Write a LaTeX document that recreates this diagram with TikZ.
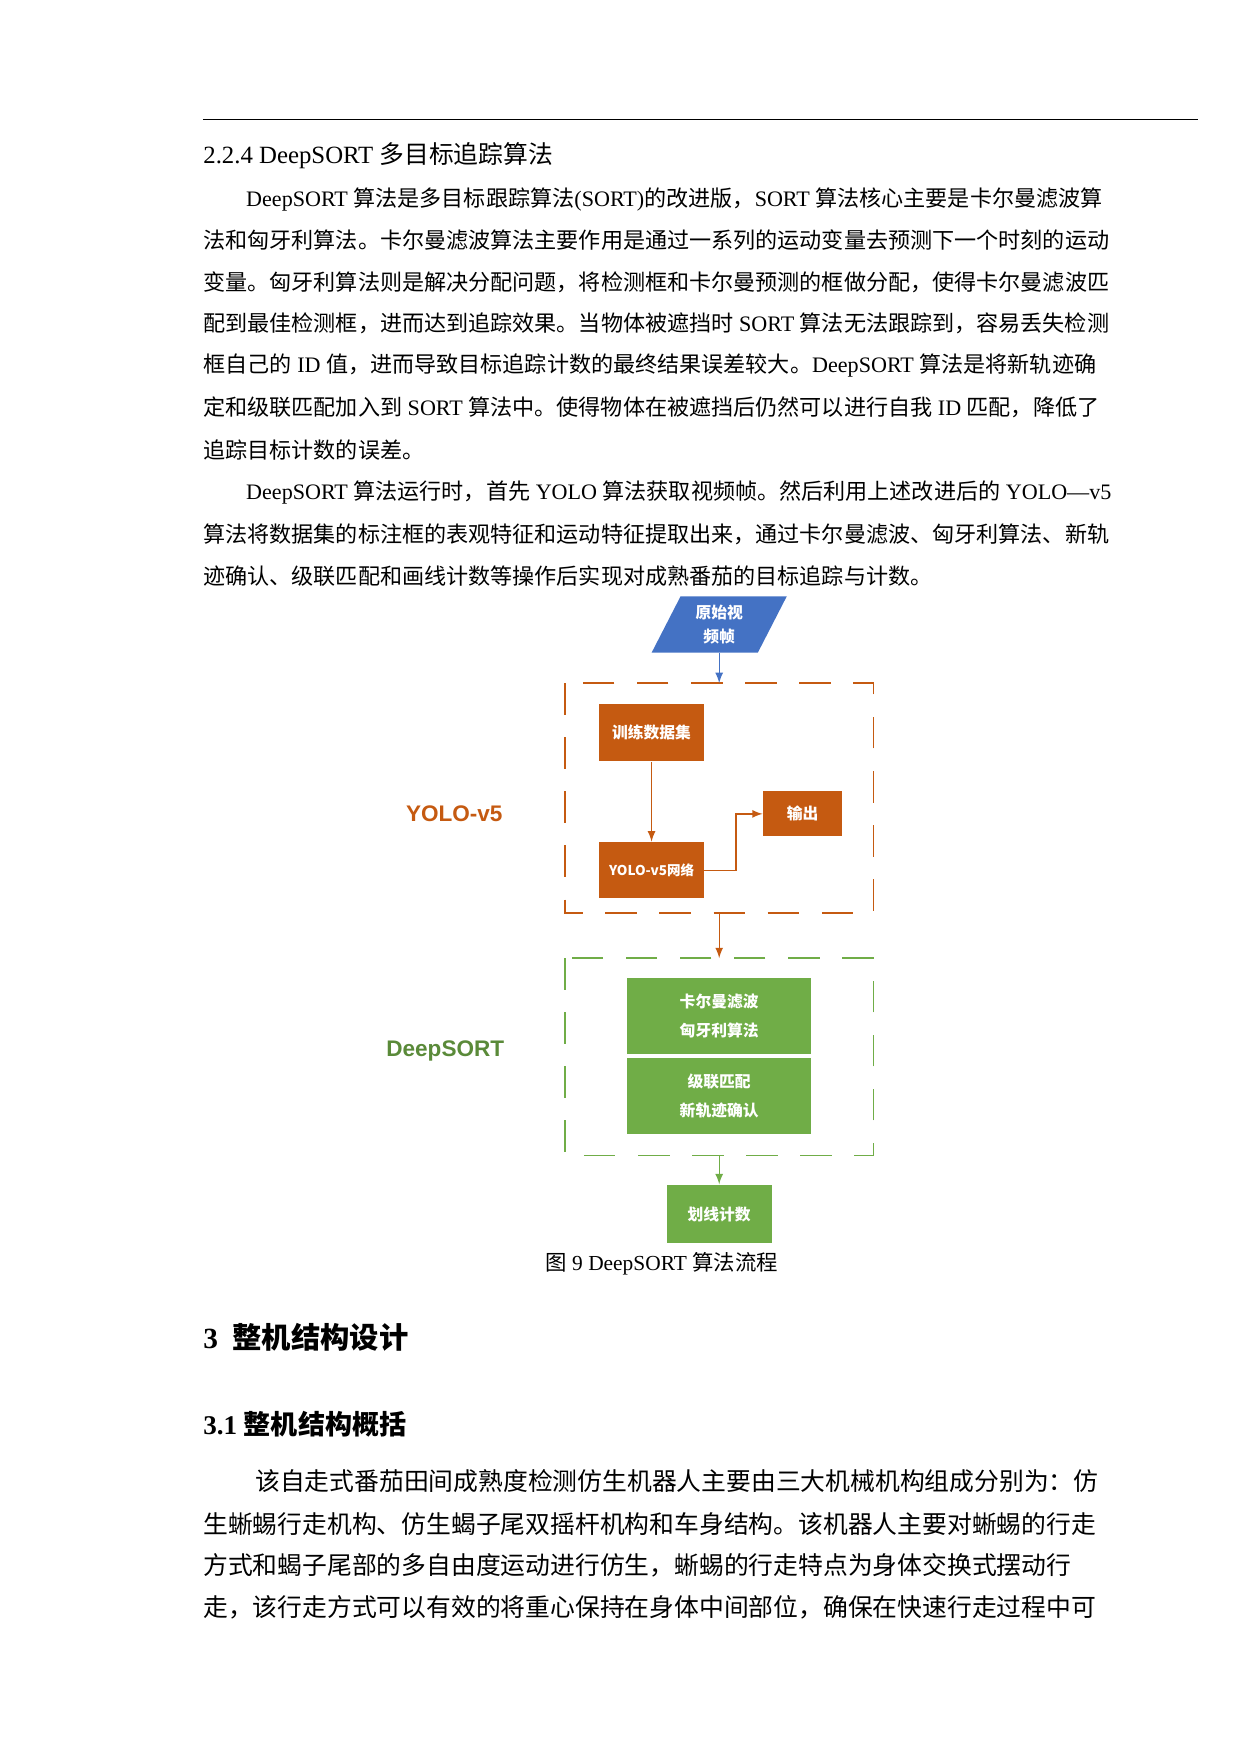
\documentclass[tikz,border=0pt]{standalone}
\usepackage{fontspec}
\setmainfont{Liberation Serif}
\setsansfont{Liberation Sans}
\newfontfamily\cjk{Noto Sans CJK SC}
\usetikzlibrary{arrows,shapes.geometric}
\XeTeXinterchartokenstate=1
\newXeTeXintercharclass\CJKcls
\count255="4E00
\loop\XeTeXcharclass\count255=\CJKcls\ifnum\count255<"9FFF\advance\count255 by 1\repeat
\count255="3000
\loop\XeTeXcharclass\count255=\CJKcls\ifnum\count255<"303F\advance\count255 by 1\repeat
\count255="FF00
\loop\XeTeXcharclass\count255=\CJKcls\ifnum\count255<"FFEF\advance\count255 by 1\repeat
\XeTeXinterchartoks 0 \CJKcls={\cjk}
\XeTeXinterchartoks 4095 \CJKcls={\cjk}
\XeTeXinterchartoks \CJKcls 0={\rmfamily}
\XeTeXinterchartoks \CJKcls 4095={\rmfamily}
\definecolor{boxblue}{HTML}{4472C4}
\definecolor{boxorange}{HTML}{C55A11}
\definecolor{boxgreen}{HTML}{70AD47}
\tikzset{
  line/.style={anchor=west,inner sep=0pt,font=\fontsize{9.8}{12}\selectfont},
  bigline/.style={anchor=west,inner sep=0pt,font=\fontsize{11}{13}\selectfont},
  step/.style={draw=none,fill=#1,text=white,font=\cjk\bfseries\fontsize{7}{11}\selectfont,inner sep=0pt,align=center},
  frame/.style={draw=#1,dash pattern=on 14pt off 10pt,line width=0.7pt},
  link/.style={draw=#1,-latex,line width=0.6pt}
}
\begin{document}
\begin{tikzpicture}[x=0.5pt,y=-0.5pt]
  \useasboundingbox (0,0) rectangle (1100,1556);
  \draw[line width=0.8pt] (180,106) -- (1063,106);
  \node[line,font=\fontsize{11}{13}\selectfont] (head) at (180,138) {2.2.4 DeepSORT 多目标追踪算法};
  % first paragraph
  \node[line] (p1) at (218,177) {DeepSORT 算法是多目标跟踪算法(SORT)的改进版，SORT 算法核心主要是卡尔曼滤波算};
  \node[line] (p2) at (180,213) {法和匈牙利算法。卡尔曼滤波算法主要作用是通过一系列的运动变量去预测下一个时刻的运动};
  \node[line] (p3) at (180,250) {变量。匈牙利算法则是解决分配问题，将检测框和卡尔曼预测的框做分配，使得卡尔曼滤波匹};
  \node[line] (p4) at (180,287) {配到最佳检测框，进而达到追踪效果。当物体被遮挡时 SORT 算法无法跟踪到，容易丢失检测};
  \node[line] (p5) at (180,324) {框自己的 ID 值，进而导致目标追踪计数的最终结果误差较大。DeepSORT 算法是将新轨迹确};
  \node[line] (p6) at (180,361) {定和级联匹配加入到 SORT 算法中。使得物体在被遮挡后仍然可以进行自我 ID 匹配，降低了};
  \node[line] (p7) at (180,399) {追踪目标计数的误差。};
  % second paragraph
  \node[line] (q1) at (218,437) {DeepSORT 算法运行时，首先 YOLO 算法获取视频帧。然后利用上述改进后的 YOLO—v5};
  \node[line] (q2) at (180,474) {算法将数据集的标注框的表观特征和运动特征提取出来，通过卡尔曼滤波、匈牙利算法、新轨};
  \node[line] (q3) at (180,511) {迹确认、级联匹配和画线计数等操作后实现对成熟番茄的目标追踪与计数。};
  % flow chart
  \node[step=boxblue,trapezium,trapezium left angle=66,trapezium right angle=114,
        minimum width=60pt,minimum height=25pt,trapezium stretches=true] (video) at (638,554) {原始视\\频帧};
  \draw[frame=boxorange] (501,606) rectangle (775,810);
  \coordinate (yolotop) at (638,606);
  \coordinate (yolobot) at (638,810);
  \node[step=boxorange,minimum width=46.5pt,minimum height=25.5pt] (train) at (578,650) {训练数据集};
  \node[step=boxorange,minimum width=46.5pt,minimum height=25pt,font=\cjk\bfseries\fontsize{6}{8}\selectfont] (net) at (578,772) {YOLO-v5网络};
  \node[step=boxorange,minimum width=35pt,minimum height=20pt] (out) at (712,722) {输出};
  \node[text=boxorange,font=\sffamily\bfseries\fontsize{10}{12}\selectfont] (yololab) at (403,722) {YOLO-v5};
  \draw[link=boxblue] (video) -- (yolotop);
  \draw[link=boxorange] (train) -- (net);
  \draw[link=boxorange] (net.east) -- ++(28,0) |- (out.west);
  \draw[frame=boxgreen] (501,850) rectangle (775,1025);
  \coordinate (deeptop) at (638,850);
  \coordinate (deepbot) at (638,1025);
  \draw[link=boxorange] (yolobot) -- (deeptop);
  \node[step=boxgreen,minimum width=81.5pt,minimum height=33.5pt,font=\cjk\bfseries\fontsize{7}{13}\selectfont] (kalman) at (638,901.5) {卡尔曼滤波\\匈牙利算法};
  \node[step=boxgreen,minimum width=81.5pt,minimum height=33.5pt,font=\cjk\bfseries\fontsize{7}{13}\selectfont] (cascade) at (638,972.5) {级联匹配\\新轨迹确认};
  \node[text=boxgreen!80!black,font=\sffamily\bfseries\fontsize{10}{12}\selectfont] (deeplab) at (395,932) {DeepSORT};
  \node[step=boxgreen,minimum width=46.5pt,minimum height=26pt] (count) at (638,1077) {划线计数};
  \draw[link=boxgreen] (deepbot) -- (count);
  \node[font=\ttfamily\fontsize{9.5}{12}\selectfont] (cap) at (587,1121) {图 9 DeepSORT 算法流程};
  % next section
  \node[line,font=\bfseries\fontsize{13}{16}\selectfont] (sec) at (180,1186) {3 \ 整机结构设计};
  \node[line,font=\bfseries\fontsize{12}{14}\selectfont] (sub) at (180,1263) {3.1 整机结构概括};
  \node[bigline] (r1) at (226,1314) {该自走式番茄田间成熟度检测仿生机器人主要由三大机械机构组成分别为：仿};
  \node[bigline] (r2) at (180,1352) {生蜥蜴行走机构、仿生蝎子尾双摇杆机构和车身结构。该机器人主要对蜥蜴的行走};
  \node[bigline] (r3) at (180,1389) {方式和蝎子尾部的多自由度运动进行仿生，蜥蜴的行走特点为身体交换式摆动行};
  \node[bigline] (r4) at (180,1426) {走，该行走方式可以有效的将重心保持在身体中间部位，确保在快速行走过程中可};
\end{tikzpicture}
\end{document}
